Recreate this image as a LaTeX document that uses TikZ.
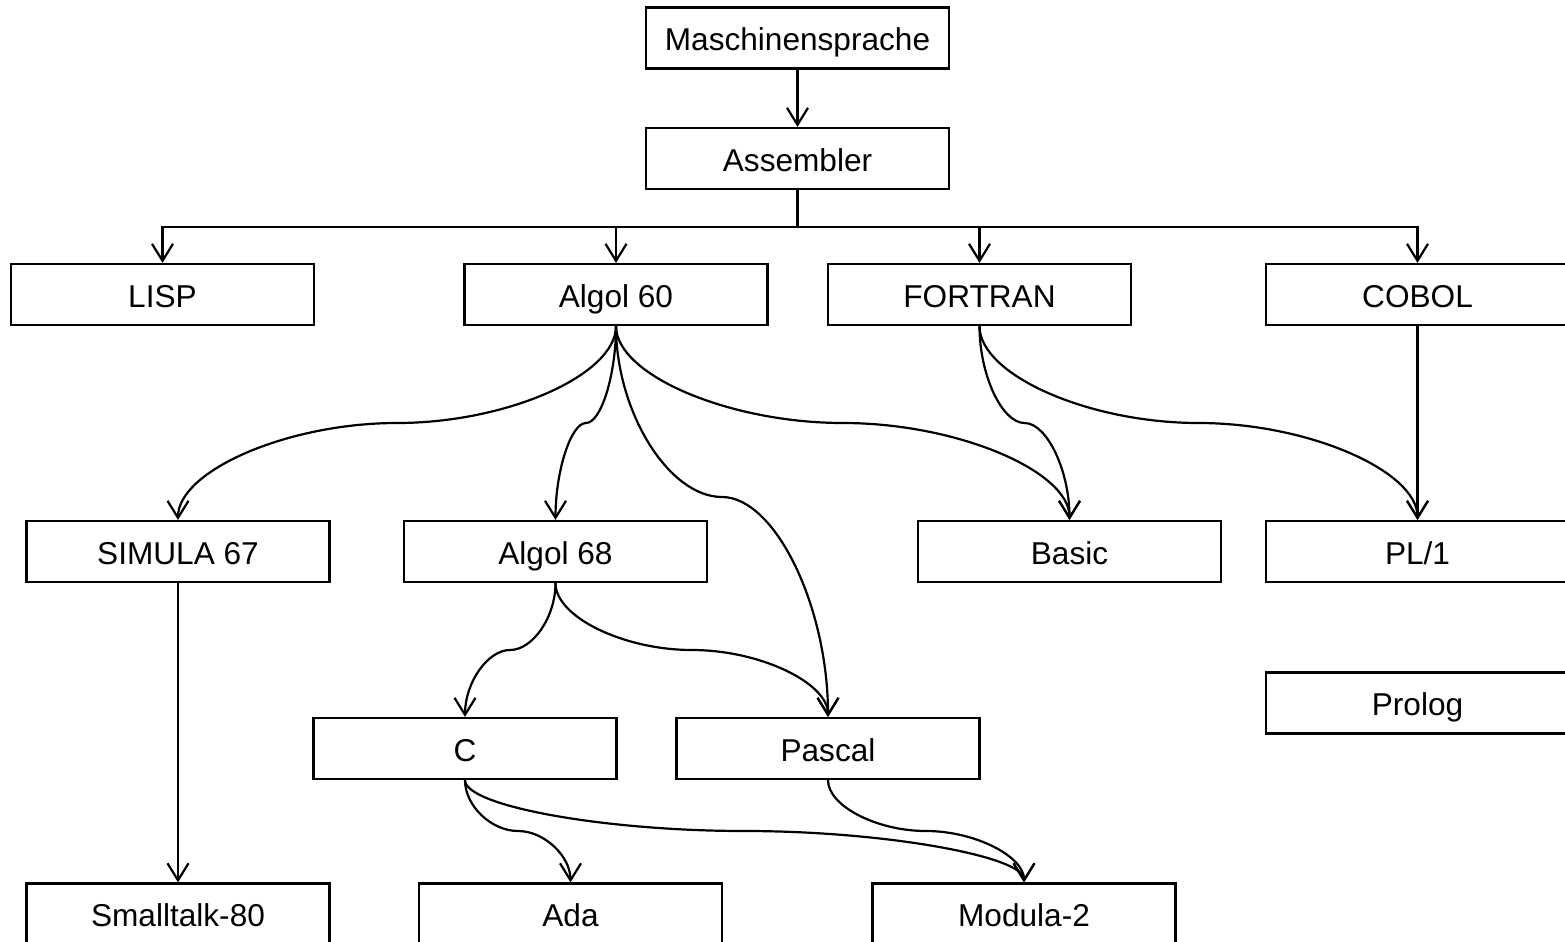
\documentclass[tikz,border=0pt]{standalone}
\usepackage{fontspec}
\setmainfont{Liberation Sans}
\usetikzlibrary{arrows.meta}

\begin{document}
\begin{tikzpicture}[x=0.5pt,y=-0.5pt,
  lang/.style={draw, line width=1.1pt, minimum width=151.5pt, minimum height=30.5pt,
               inner sep=0pt, text height=12.8pt, text depth=0pt,
               font=\fontsize{15.8}{19}\selectfont},
  link/.style={line width=1.1pt},
  edge/.style={link, -{Straight Barb[length=8.5pt,width=10.5pt]}}]
\useasboundingbox (0,0) rectangle (1565,942);
\clip (0,0) rectangle (1565,942);

% language boxes
\node[lang] (ms)   at (797.5,38)    {Maschinensprache};
\node[lang] (asm)  at (797.5,158.5) {Assembler};
\node[lang] (lisp) at (162.5,294.5) {LISP};
\node[lang] (a60)  at (616,294.5)   {Algol 60};
\node[lang] (fort) at (979.5,294.5) {FORTRAN};
\node[lang] (cob)  at (1417.5,294.5){COBOL};
\node[lang] (sim)  at (178,551.5)   {SIMULA 67};
\node[lang] (a68)  at (555.5,551.5) {Algol 68};
\node[lang] (bas)  at (1069.5,551.5){Basic};
\node[lang] (pl1)  at (1417.5,551.5){PL/1};
\node[lang] (pro)  at (1417.5,703)  {Prolog};
\node[lang] (c)    at (465,748.5)   {C};
\node[lang] (pas)  at (828,748.5)   {Pascal};
\node[lang] (st)   at (178,914)     {Smalltalk-80};
\node[lang] (ada)  at (570.5,914)   {Ada};
\node[lang] (mod)  at (1024,914)    {Modula-2};

% straight links
\draw[edge] (ms) -- (asm);
\coordinate (bus) at (797.5,227);
\draw[link] (asm.south) -- (bus);
\draw[edge] (bus) -| (lisp.north);
\draw[edge] (bus) -| (a60.north);
\draw[edge] (bus) -| (fort.north);
\draw[edge] (bus) -| (cob.north);
\draw[edge] (cob) -- (pl1);
\draw[edge] (sim) -- (st);

% bend points of the curved links
\coordinate (m1)  at (397,423);
\coordinate (m2)  at (586,423);
\coordinate (m3)  at (722,497);
\coordinate (m4)  at (843,423);
\coordinate (m5)  at (1024.5,423);
\coordinate (m6)  at (1198.5,423);
\coordinate (m7)  at (510,650);
\coordinate (m8)  at (692,650);
\coordinate (m9)  at (518,831);
\coordinate (m10) at (744.5,831);
\coordinate (m11) at (926,831);

% curved links
\draw[edge] (a60.south) .. controls +(0,49) and +(109.5,0) .. (m1)
                        .. controls +(-109.5,0) and +(0,-49) .. (sim.north);
\draw[edge] (a60.south) .. controls +(0,49) and +(15,0) .. (m2)
                        .. controls +(-15,0) and +(0,-49) .. (a68.north);
\draw[edge] (a60.south) .. controls +(0,86) and +(-53,0) .. (m3)
                        .. controls +(53,0) and +(0,-110.5) .. (pas.north);
\draw[edge] (a60.south) .. controls +(0,49) and +(-113.5,0) .. (m4)
                        .. controls +(113.5,0) and +(0,-49) .. (bas.north);
\draw[edge] (fort.south) .. controls +(0,49) and +(-22.5,0) .. (m5)
                         .. controls +(22.5,0) and +(0,-49) .. (bas.north);
\draw[edge] (fort.south) .. controls +(0,49) and +(-109.5,0) .. (m6)
                         .. controls +(109.5,0) and +(0,-49) .. (pl1.north);
\draw[edge] (a68.south) .. controls +(0,34) and +(22.75,0) .. (m7)
                        .. controls +(-22.5,0) and +(0,-34) .. (c.north);
\draw[edge] (a68.south) .. controls +(0,34) and +(-68,0) .. (m8)
                        .. controls +(68,0) and +(0,-34) .. (pas.north);
\draw[edge] (c.south) .. controls +(0,26) and +(-26.5,0) .. (m9)
                      .. controls +(26.5,0) and +(0,-26) .. (ada.north);
\draw[edge] (c.south) .. controls +(0,26) and +(-140,0) .. (m10)
                      .. controls +(140,0) and +(0,-26) .. (mod.north);
\draw[edge] (pas.south) .. controls +(0,26) and +(-49,0) .. (m11)
                        .. controls +(49,0) and +(0,-26) .. (mod.north);
\end{tikzpicture}
\end{document}
